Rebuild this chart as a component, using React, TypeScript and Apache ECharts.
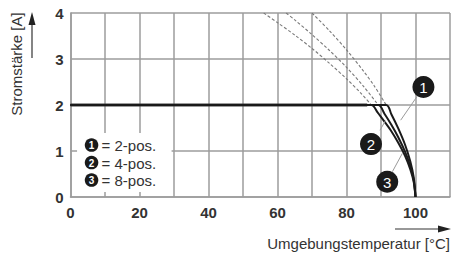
import React, { useEffect, useRef } from "react";
import * as echarts from "echarts";

// Temperature ticks (x) and current ticks (y)
const xTicks = [0, 10, 20, 30, 40, 50, 60, 70, 80, 90, 100, 110];
const xLabels = [0, 20, 40, 60, 80, 100];
const yTicks = [0, 1, 2, 3, 4];

// Solid (valid) parts of the derating curves: [temperature, current]
const solid1 = [[0, 2], [91.5, 2], [93, 1.8], [95, 1.49], [97, 1.13], [98.5, 0.77], [99.5, 0.42], [100, 0]];
const solid2 = [[0, 2], [89.2, 2], [91, 1.81], [93, 1.57], [95, 1.3], [97, 0.98], [98.5, 0.67], [99.5, 0.36], [100, 0]];
const solid3 = [[0, 2], [87.2, 2], [89, 1.84], [91, 1.64], [93, 1.43], [95, 1.18], [97, 0.89], [98.5, 0.6], [99.5, 0.32], [100, 0]];

// Dashed (theoretical) parts above 2 A
const dashed1 = [[70, 4], [75, 3.62], [80, 3.2], [85, 2.73], [88, 2.42], [91.5, 2]];
const dashed2 = [[62.5, 4], [65, 3.85], [70, 3.53], [75, 3.19], [80, 2.82], [85, 2.4], [89.2, 2]];
const dashed3 = [[56, 4], [60, 3.79], [65, 3.52], [70, 3.23], [75, 2.91], [80, 2.57], [84, 2.27], [87.2, 2]];

const legendItems = ["1", "2", "3"];
const legendTexts = ["= 2-pos.", "= 4-pos.", "= 8-pos."];

// Callout markers: [label, circle T, circle I, leader from T, I, leader to T, I]
const callouts: [string, number, number, number, number, number, number][] = [
  ["1", 102.3, 2.39, 100.4, 2.18, 95.7, 1.67],
  ["2", 87.1, 1.15, 89.7, 1.45, 91.3, 1.66],
  ["3", 91.8, 0.33, 93.3, 0.55, 96.2, 0.95],
];

const xName = "Umgebungstemperatur [°C]";
const yName = "Stromstärke [A]";

const FONT = "'Liberation Sans', Arial, sans-serif";
const GRID = "#9c9c9c";

export default function App() {
  const ref = useRef<HTMLDivElement>(null);
  useEffect(() => {
    if (!ref.current) return;
    const chart = echarts.init(ref.current, null, { renderer: "svg" });
    const solidStyle = { color: "#1a1a1a", width: 2 };
    const dashStyle = { color: "#7a7a7a", width: 1.1, type: [3, 2] as any };
    const mk = (data: number[][], style: any, z: number) => ({
      type: "line",
      data,
      showSymbol: false,
      symbol: "none",
      smooth: 0.3,
      lineStyle: style,
      z,
      silent: true,
    });
    const option: any = {
      animation: false,
      grid: { left: 70.5, right: 1, top: 13, bottom: 60 },
      xAxis: {
        type: "value",
        min: 0,
        max: 110,
        interval: 10,
        axisLine: { show: true, lineStyle: { color: GRID, width: 1.5 } },
        axisTick: { show: false },
        splitLine: { show: true, lineStyle: { color: GRID, width: 1.5 } },
        axisLabel: {
          margin: 8,
          fontFamily: FONT,
          fontSize: 15,
          fontWeight: "bold",
          color: "#333",
          formatter: (v: number) => (xLabels.includes(v) ? String(v) : ""),
        },
      },
      yAxis: {
        type: "value",
        min: 0,
        max: 4,
        interval: 1,
        axisLine: { show: true, lineStyle: { color: GRID, width: 1.5 } },
        axisTick: { show: false },
        splitLine: { show: true, lineStyle: { color: GRID, width: 1.5 } },
        axisLabel: {
          margin: 7,
          fontFamily: FONT,
          fontSize: 15,
          fontWeight: "bold",
          color: "#333",
          formatter: (v: number) => (yTicks.includes(v) ? String(v) : ""),
        },
      },
      series: [
        mk(dashed1, dashStyle, 2),
        mk(dashed2, dashStyle, 2),
        mk(dashed3, dashStyle, 2),
        mk([[0, 2], [86, 2]], { color: "#3a3a3a", width: 3 }, 3),
        mk(solid1, solidStyle, 3),
        mk(solid2, solidStyle, 3),
        mk(solid3, solidStyle, 3),
      ],
    };
    chart.setOption(option);

    const px = (t: number, i: number) => chart.convertToPixel({ gridIndex: 0 }, [t, i]) as number[];
    const elements: any[] = [];
    // legend box
    const lb0 = px(1.9, 1.39);
    const lb1 = px(29.3, 0.11);
    elements.push({
      type: "rect",
      shape: { x: lb0[0], y: lb0[1], width: lb1[0] - lb0[0], height: lb1[1] - lb0[1] },
      style: { fill: "#ffffff" },
      z: 10,
    });
    legendItems.forEach((n, k) => {
      const cy = lb0[1] + 12 + k * 17.5;
      const cx = lb0[0] + 14.5;
      elements.push({ type: "circle", shape: { cx, cy, r: 6.8 }, style: { fill: "#1a1a1a" }, z: 11 });
      elements.push({
        type: "text",
        x: cx,
        y: cy + 0.5,
        style: { text: n, fill: "#fff", font: `bold 10px ${FONT}`, align: "center", verticalAlign: "middle" },
        z: 12,
      });
      elements.push({
        type: "text",
        x: cx + 10,
        y: cy + 0.5,
        style: { text: legendTexts[k], fill: "#333", font: `15px ${FONT}`, align: "left", verticalAlign: "middle" },
        z: 12,
      });
    });
    // callouts
    callouts.forEach(([n, t, i, t1, i1, t2, i2]) => {
      const c = px(t, i);
      const a = px(t1, i1);
      const b = px(t2, i2);
      elements.push({
        type: "line",
        shape: { x1: a[0], y1: a[1], x2: b[0], y2: b[1] },
        style: { stroke: "#9a9a9a", lineWidth: 1 },
        z: 10,
      });
      elements.push({ type: "circle", shape: { cx: c[0], cy: c[1], r: 11 }, style: { fill: "#1a1a1a" }, z: 11 });
      elements.push({
        type: "text",
        x: c[0],
        y: c[1] + 0.5,
        style: { text: n, fill: "#fff", font: `15px ${FONT}`, align: "center", verticalAlign: "middle" },
        z: 12,
      });
    });
    // axis names with arrows
    elements.push({
      type: "text",
      x: 450,
      y: 243,
      style: { text: xName, fill: "#333", font: `15px ${FONT}`, align: "right", verticalAlign: "middle" },
      z: 12,
    });
    elements.push({ type: "line", shape: { x1: 395, y1: 229, x2: 440, y2: 229 }, style: { stroke: "#333", lineWidth: 1.2 }, z: 12 });
    elements.push({ type: "polygon", shape: { points: [[451, 229], [438, 225.5], [438, 232.5]] }, style: { fill: "#222" }, z: 12 });
    elements.push({
      type: "text",
      x: 16,
      y: 64,
      rotation: Math.PI / 2,
      style: { text: yName, fill: "#333", font: `15px ${FONT}`, align: "center", verticalAlign: "middle" },
      z: 12,
    });
    elements.push({ type: "line", shape: { x1: 32, y1: 58, x2: 32, y2: 22 }, style: { stroke: "#333", lineWidth: 1.2 }, z: 12 });
    elements.push({ type: "polygon", shape: { points: [[32, 12], [28.5, 25], [35.5, 25]] }, style: { fill: "#222" }, z: 12 });

    chart.setOption({ graphic: { elements } });
    return () => chart.dispose();
  }, []);
  return (
    <div
      ref={ref}
      style={{ position: "absolute", left: 0, top: 0, width: 453, height: 257, background: "#fff" }}
    />
  );
}
